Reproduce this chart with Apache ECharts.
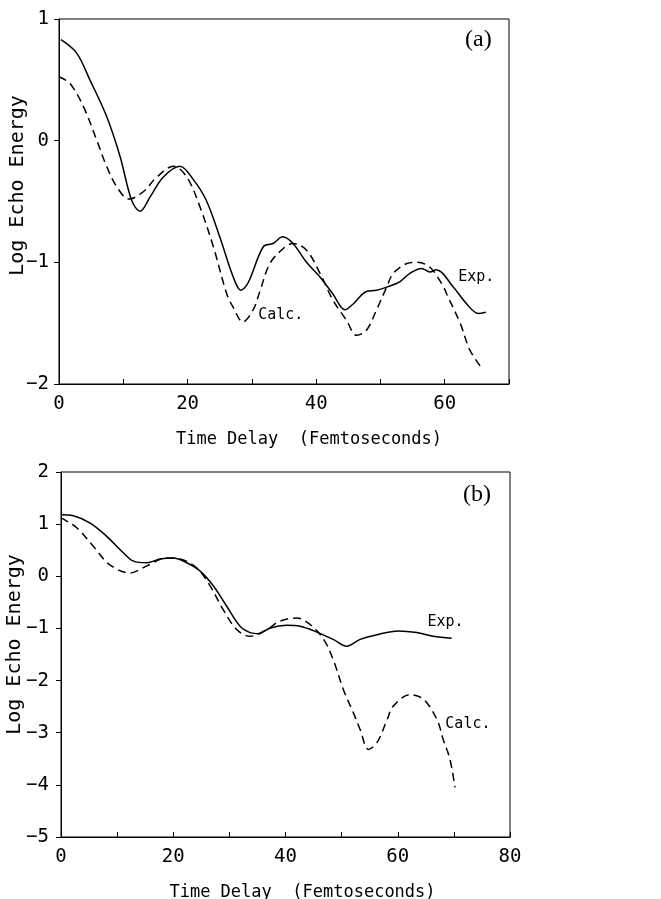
<!DOCTYPE html>
<html>
<head>
<meta charset="utf-8">
<script src="https://cdn.jsdelivr.net/npm/echarts@6/dist/echarts.min.js"></script>
<style>html,body{margin:0;padding:0;background:#fff;}#c{width:661px;height:899px;}</style>
</head>
<body>
<div id="c"></div>
<script>
// Panel (a)
const expA = [[0.3,0.83],[2.75,0.72],[4.8,0.50],[7.4,0.20],[9.5,-0.13],[11.3,-0.49],[12.6,-0.58],[14.2,-0.46],[16.2,-0.30],[18.8,-0.21],[20.9,-0.32],[22.9,-0.49],[25.0,-0.79],[27.1,-1.12],[28.3,-1.23],[29.4,-1.17],[31.8,-0.87],[33.3,-0.845],[34.8,-0.79],[36.4,-0.845],[38.5,-1.0],[40.6,-1.12],[42.6,-1.26],[44.5,-1.39],[45.8,-1.34],[47.8,-1.24],[49.4,-1.23],[51.2,-1.20],[53.0,-1.16],[54.6,-1.09],[56.4,-1.05],[57.7,-1.08],[58.7,-1.06],[61.3,-1.20],[63.4,-1.34],[65.2,-1.42],[66.4,-1.41]];
const calcA = [[0,0.525],[1.7,0.47],[3.8,0.28],[5.9,0.0],[7.4,-0.21],[9.0,-0.38],[10.9,-0.48],[13.1,-0.42],[15.2,-0.30],[17.8,-0.21],[19.9,-0.30],[21.9,-0.54],[24.0,-0.87],[26.1,-1.26],[27.1,-1.37],[28.6,-1.49],[30.2,-1.39],[31.3,-1.23],[32.8,-1.01],[34.9,-0.886],[36.4,-0.845],[38.5,-0.90],[40.6,-1.09],[42.6,-1.31],[44.7,-1.475],[46.3,-1.60],[47.8,-1.56],[49.4,-1.39],[51.0,-1.20],[52.0,-1.09],[54.1,-1.01],[55.6,-1.0],[57.7,-1.04],[59.8,-1.20],[60.3,-1.26],[62.4,-1.50],[63.9,-1.72],[65.7,-1.865]];
// Panel (b)
const expB = [[0,1.18],[2.2,1.16],[5.2,1.02],[8.1,0.77],[11.1,0.45],[12.9,0.29],[15.3,0.26],[17.6,0.33],[20.0,0.35],[22.4,0.26],[24.8,0.10],[27.2,-0.19],[29.5,-0.57],[31.9,-0.96],[33.7,-1.08],[35.2,-1.10],[37.3,-0.99],[40.2,-0.94],[42.6,-0.96],[45.6,-1.07],[48.5,-1.21],[50.9,-1.34],[53.3,-1.21],[56.3,-1.12],[60.1,-1.05],[63.4,-1.08],[66.3,-1.15],[69.6,-1.19]];
const calcB = [[0,1.12],[2.8,0.93],[5.8,0.57],[8.7,0.22],[12.3,0.065],[15.3,0.20],[18.8,0.35],[21.2,0.33],[24.2,0.16],[26.6,-0.19],[28.9,-0.64],[31.3,-1.02],[33.7,-1.15],[36.7,-1.02],[39.0,-0.86],[42.0,-0.80],[44.4,-0.925],[46.8,-1.21],[48.5,-1.60],[50.3,-2.17],[52.1,-2.62],[53.3,-2.94],[54.8,-3.32],[56.3,-3.19],[58.1,-2.75],[59.2,-2.49],[62.2,-2.27],[64.6,-2.36],[67.0,-2.75],[68.1,-3.13],[69.3,-3.51],[70.2,-4.05]];

const xTicksA = [0, 70, 10];
const yTicksA = [-2, 1, 1];
const xTicksB = [0, 80, 10];
const yTicksB = [-5, 2, 1];
const xTitle = 'Time Delay  (Femtoseconds)';
const yTitle = 'Log Echo Energy';
const panelLabels = ['(a)', '(b)'];
const annotA = [['Exp.', 64.9, -1.12], ['Calc.', 34.5, -1.434]];
const annotB = [['Exp.', 68.5, -0.887], ['Calc.', 72.5, -2.84]];

const MONO = 'DejaVu Sans Mono';
const minus = v => String(v).replace('-', '\u2212');

function xAxis(idx, t, shift) {
  return {
    type: 'value', gridIndex: idx, min: t[0], max: t[1], interval: t[2],
    axisLine: {show: true, onZero: false, lineStyle: {color: '#000', width: 1}},
    axisTick: {show: true, inside: true, length: 5, lineStyle: {color: '#000'}},
    splitLine: {show: false},
    axisLabel: {margin: 11, fontFamily: MONO, fontSize: 19, color: '#000',
      formatter: v => (v % 20 === 0 ? minus(v) : '')},
    name: xTitle, nameLocation: 'middle', nameGap: 47, nameMoveOverlap: false,
    nameTextStyle: {fontFamily: MONO, fontSize: 17, color: '#000', padding: [0, 0, 0, shift]}
  };
}
function yAxis(idx, t, shift, gap, margin) {
  return {
    type: 'value', gridIndex: idx, min: t[0], max: t[1], interval: t[2],
    axisLine: {show: true, onZero: false, lineStyle: {color: '#000', width: 1}},
    axisTick: {show: true, inside: false, length: 5, lineStyle: {color: '#000'}},
    splitLine: {show: false},
    axisLabel: {margin: margin, fontFamily: MONO, fontSize: 19, color: '#000', formatter: v => minus(v)},
    name: yTitle, nameLocation: 'middle', nameGap: gap, nameMoveOverlap: false,
    nameTextStyle: {fontFamily: MONO, fontSize: 20, color: '#000', padding: [0, 0, 0, shift]}
  };
}
function annot(list) {
  return {
    symbol: 'rect', symbolSize: 1, itemStyle: {color: 'rgba(0,0,0,0)'},
    label: {show: true, position: 'inside', fontFamily: MONO, fontSize: 15, color: '#000',
      formatter: p => p.name},
    data: list.map(a => ({name: a[0], coord: [a[1], a[2]]}))
  };
}
function line(data, xi, dashed, mp) {
  return {
    type: 'line', data: data, xAxisIndex: xi, yAxisIndex: xi, smooth: 0.35,
    symbol: 'none', animation: false,
    lineStyle: {color: '#000', width: 1.5, type: dashed ? [8, 5] : 'solid'},
    markPoint: mp || undefined
  };
}

const chart = echarts.init(document.getElementById('c'));
chart.setOption({
  backgroundColor: '#fff',
  animation: false,
  grid: [
    {left: 59, top: 19, width: 450, height: 365, show: true, borderColor: '#000', borderWidth: 1,
     containLabel: false, outerBoundsMode: 'none'},
    {left: 61, top: 472, width: 449, height: 365, show: true, borderColor: '#000', borderWidth: 1,
     containLabel: false, outerBoundsMode: 'none'}
  ],
  xAxis: [xAxis(0, xTicksA, 50), xAxis(1, xTicksB, 34)],
  yAxis: [yAxis(0, yTicksA, 32, 31, 10), yAxis(1, yTicksB, 20, 36, 12)],
  graphic: [
    {type: 'text', left: 465, top: 28, style: {text: panelLabels[0], font: '24px "Liberation Serif"', fill: '#000'}},
    {type: 'text', left: 463, top: 483, style: {text: panelLabels[1], font: '24px "Liberation Serif"', fill: '#000'}}
  ],
  series: [
    line(expA, 0, false, annot(annotA)),
    line(calcA, 0, true),
    line(expB, 1, false, annot(annotB)),
    line(calcB, 1, true)
  ]
});
</script>
</body>
</html>
